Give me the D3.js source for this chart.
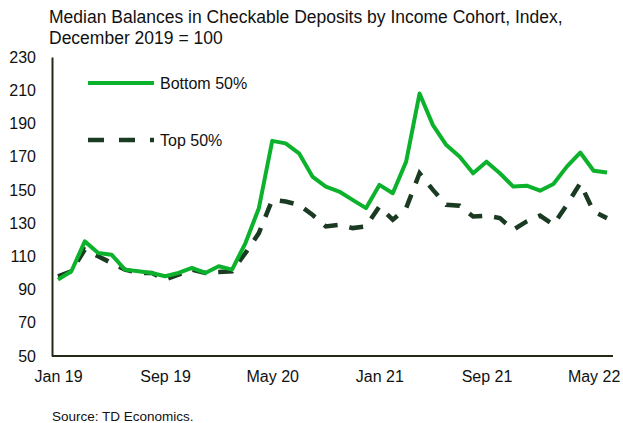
<!DOCTYPE html>
<html>
<head>
<meta charset="utf-8">
<script src="https://cdn.jsdelivr.net/npm/d3@7"></script>
<style>
  body { margin: 0; background: #fff; }
  svg { font-family: "Liberation Sans", Arial, sans-serif; }
</style>
</head>
<body>
<svg id="chart" width="623" height="423"></svg>
<script>
// monthly, Jan 2019 .. Jun 2022
var months = ["Jan 19","Feb 19","Mar 19","Apr 19","May 19","Jun 19","Jul 19","Aug 19","Sep 19","Oct 19","Nov 19","Dec 19",
  "Jan 20","Feb 20","Mar 20","Apr 20","May 20","Jun 20","Jul 20","Aug 20","Sep 20","Oct 20","Nov 20","Dec 20",
  "Jan 21","Feb 21","Mar 21","Apr 21","May 21","Jun 21","Jul 21","Aug 21","Sep 21","Oct 21","Nov 21","Dec 21",
  "Jan 22","Feb 22","Mar 22","Apr 22","May 22","Jun 22"];

var bottom50 = [96, 101, 119, 112, 111, 102, 101, 100, 98, 100, 103, 100,
  104, 102, 118, 139, 179.5, 178, 172, 158, 152, 149, 144, 139,
  153, 148, 167, 208, 189, 177, 170, 160, 167, 160, 152, 152.5,
  149.5, 153.5, 164, 172.5, 161.5, 160.5];

var top50 = [98, 101, 114, 110, 106, 102, 100, 100, 96, 99, 102, 100,
  100.5, 101, 112, 124, 144, 143, 141, 135, 128, 129, 127, 128,
  140, 132, 139, 160, 150, 141, 140.5, 134, 134.5, 133, 126, 131,
  134.5, 129, 141, 154, 137, 133];

var xTicks = ["Jan 19", "Sep 19", "May 20", "Jan 21", "Sep 21", "May 22"];
var yTicks = [50, 70, 90, 110, 130, 150, 170, 190, 210, 230];

var svg = d3.select("#chart");

var axisColor = "#232b17";
var green = "#0db22c";
var dark = "#1a3a22";

var x = d3.scalePoint()
    .domain(months)
    .range([58, 607]);

var y = d3.scaleLinear()
    .domain([50, 230])
    .range([356, 57]);

// title
svg.append("text")
  .attr("x", 49).attr("y", 23)
  .attr("font-size", 17.5).attr("fill", "#111")
  .text("Median Balances in Checkable Deposits by Income Cohort, Index,");
svg.append("text")
  .attr("x", 49).attr("y", 44)
  .attr("font-size", 17.5).attr("fill", "#111")
  .text("December 2019 = 100");

// axes
var yAxis = d3.axisLeft(y)
  .tickValues(yTicks)
  .tickSize(0)
  .tickPadding(16);

var gy = svg.append("g")
  .attr("transform", "translate(52,0)")
  .call(yAxis);
gy.select(".domain").attr("stroke", axisColor).attr("stroke-width", 2);
gy.selectAll("text").attr("font-size", 16).attr("fill", "#111")
  .attr("font-family", "Liberation Sans, Arial, sans-serif");

var xAxis = d3.axisBottom(x)
  .tickValues(xTicks)
  .tickSize(0)
  .tickPadding(15);

var gx = svg.append("g")
  .attr("transform", "translate(0,356)")
  .call(xAxis);
gx.select(".domain").attr("d", "M52,0H613").attr("stroke", axisColor).attr("stroke-width", 2);
gx.selectAll("text").attr("font-size", 16).attr("fill", "#111")
  .attr("font-family", "Liberation Sans, Arial, sans-serif");

// lines
var line = function(vals) {
  return d3.line()
    .x(function(d, i) { return x(months[i]); })
    .y(function(d) { return y(d); })(vals);
};

svg.append("path")
  .attr("d", line(top50))
  .attr("fill", "none")
  .attr("stroke", dark)
  .attr("stroke-width", 4.5)
  .attr("stroke-dasharray", "14,12");

svg.append("path")
  .attr("d", line(bottom50))
  .attr("fill", "none")
  .attr("stroke", green)
  .attr("stroke-width", 4)
  .attr("stroke-linejoin", "round");

// legend
svg.append("line")
  .attr("x1", 88).attr("x2", 154).attr("y1", 83).attr("y2", 83)
  .attr("stroke", green).attr("stroke-width", 4);
svg.append("text")
  .attr("x", 160).attr("y", 89)
  .attr("font-size", 16).attr("fill", "#111")
  .text("Bottom 50%");

svg.append("line")
  .attr("x1", 88).attr("x2", 154).attr("y1", 140).attr("y2", 140)
  .attr("stroke", dark).attr("stroke-width", 4.5)
  .attr("stroke-dasharray", "16,15");
svg.append("text")
  .attr("x", 160).attr("y", 146)
  .attr("font-size", 16).attr("fill", "#111")
  .text("Top 50%");

// source
svg.append("text")
  .attr("x", 52).attr("y", 421)
  .attr("font-size", 13.5).attr("fill", "#111")
  .text("Source: TD Economics.");
</script>
</body>
</html>
